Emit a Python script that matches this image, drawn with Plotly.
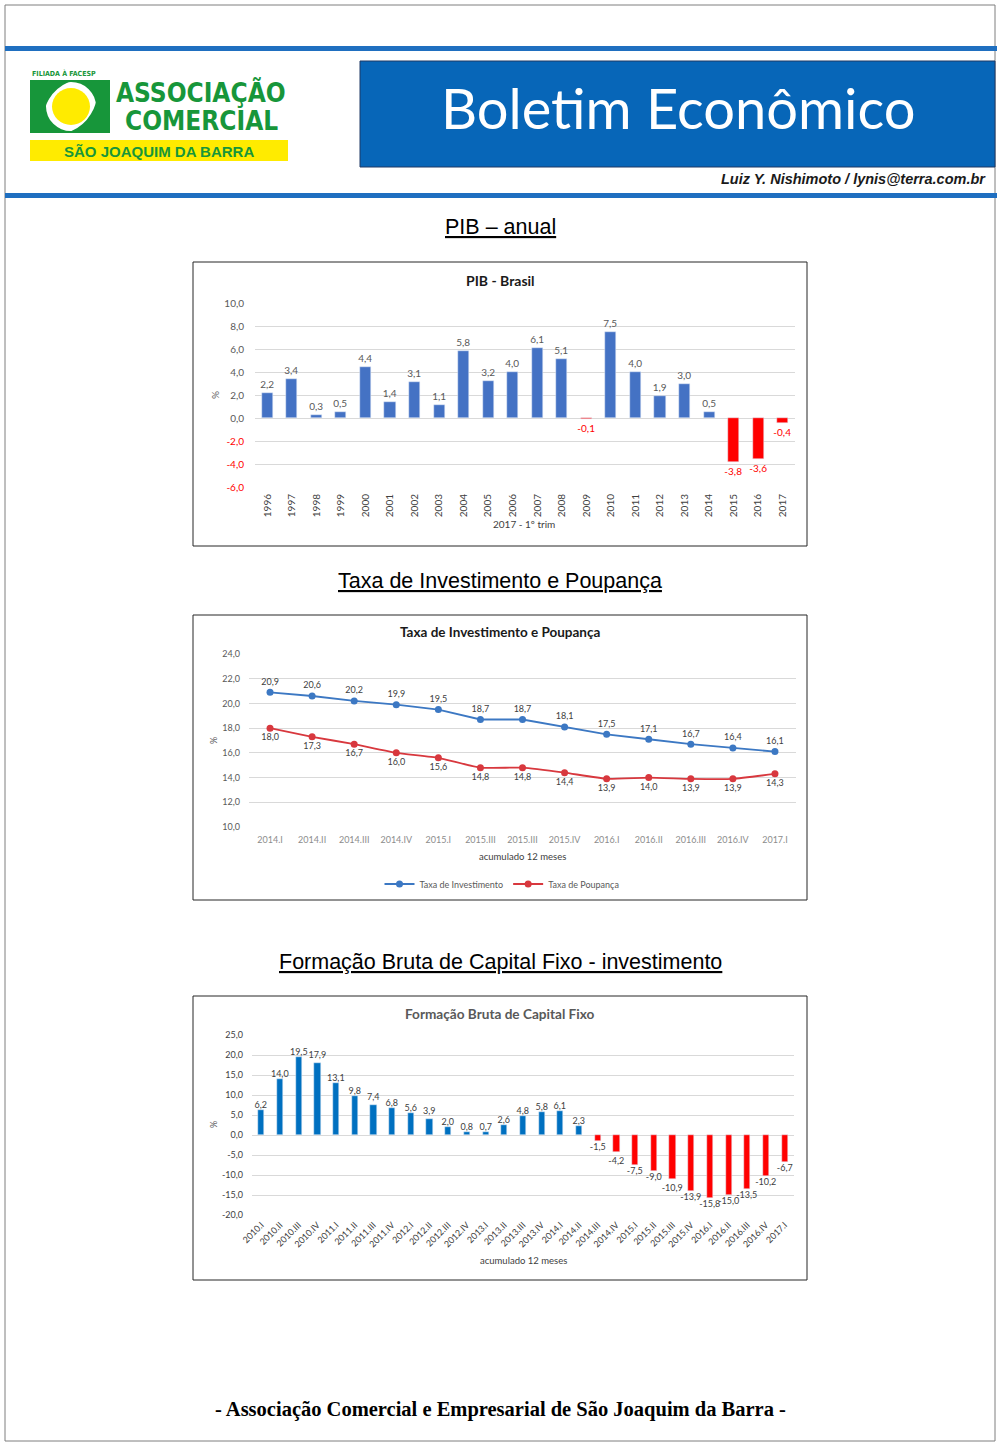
import plotly.graph_objects as go

W, H = 1000, 1448


def X(p):
    return p / W


def Y(p):
    return 1 - p / H


# ---------------- data ----------------
pib_years = ["1996", "1997", "1998", "1999", "2000", "2001", "2002", "2003", "2004", "2005", "2006",
             "2007", "2008", "2009", "2010", "2011", "2012", "2013", "2014", "2015", "2016", "2017"]
pib_values = [2.2, 3.4, 0.3, 0.5, 4.4, 1.4, 3.1, 1.1, 5.8, 3.2, 4.0,
              6.1, 5.1, -0.1, 7.5, 4.0, 1.9, 3.0, 0.5, -3.8, -3.6, -0.4]
pib_ticks = [10, 8, 6, 4, 2, 0, -2, -4, -6]

tx_periods = ["2014.I", "2014.II", "2014.III", "2014.IV", "2015.I", "2015.III", "2015.III",
              "2015.IV", "2016.I", "2016.II", "2016.III", "2016.IV", "2017.I"]
tx_invest = [20.9, 20.6, 20.2, 19.9, 19.5, 18.7, 18.7, 18.1, 17.5, 17.1, 16.7, 16.4, 16.1]
tx_poup = [18.0, 17.3, 16.7, 16.0, 15.6, 14.8, 14.8, 14.4, 13.9, 14.0, 13.9, 13.9, 14.3]
tx_ticks = [24, 22, 20, 18, 16, 14, 12, 10]

fbcf_periods = ["2010.I", "2010.II", "2010.III", "2010.IV", "2011.I", "2011.II", "2011.III", "2011.IV",
                "2012.I", "2012.II", "2012.III", "2012.IV", "2013.I", "2013.II", "2013.III", "2013.IV",
                "2014.I", "2014.II", "2014.III", "2014.IV", "2015.I", "2015.II", "2015.III", "2015.IV",
                "2016.I", "2016.II", "2016.III", "2016.IV", "2017.I"]
fbcf_values = [6.2, 14.0, 19.5, 17.9, 13.1, 9.8, 7.4, 6.8, 5.6, 3.9, 2.0, 0.8, 0.7, 2.6, 4.8, 5.8,
               6.1, 2.3, -1.5, -4.2, -7.5, -9.0, -10.9, -13.9, -15.8, -15.0, -13.5, -10.2, -6.7]
fbcf_ticks = [25, 20, 15, 10, 5, 0, -5, -10, -15, -20]

BLUE1 = "#4472C4"
BLUE3 = "#0070C0"
RED = "#FF0000"
LBLUE = "#3C78C3"
LRED = "#D8383E"
GRID = "#D9D9D9"
TXT = "#595959"
FONT = "Lato, Open Sans, sans-serif"


def br(v):
    return f"{v:.1f}".replace(".", ",")


fig = go.Figure()

# ---------------- chart 1: PIB ----------------
fig.add_trace(go.Bar(
    x=list(range(len(pib_years))), y=pib_values,
    marker_color=[BLUE1 if v >= 0 else RED for v in pib_values],
    width=0.45,
    text=[br(v) for v in pib_values], textposition="outside", constraintext="none",
    textfont=dict(size=10, family=FONT, color=[TXT if v >= 0 else RED for v in pib_values]),
    cliponaxis=False, showlegend=False, xaxis="x", yaxis="y",
))

# ---------------- chart 2: Taxa ----------------
fig.add_trace(go.Scatter(
    x=list(range(len(tx_periods))), y=tx_invest, mode="lines+markers+text",
    name="Taxa de Investimento",
    line=dict(color=LBLUE, width=1.8), marker=dict(size=7, color=LBLUE),
    text=[br(v) for v in tx_invest], textposition="top center",
    textfont=dict(size=9, family=FONT, color="#404040"),
    cliponaxis=False, xaxis="x2", yaxis="y2",
))
fig.add_trace(go.Scatter(
    x=list(range(len(tx_periods))), y=tx_poup, mode="lines+markers+text",
    name="Taxa de Poupança",
    line=dict(color=LRED, width=1.8, shape="spline", smoothing=0.4), marker=dict(size=7, color=LRED),
    text=[br(v) for v in tx_poup], textposition="bottom center",
    textfont=dict(size=9, family=FONT, color="#404040"),
    cliponaxis=False, xaxis="x2", yaxis="y2",
))

# ---------------- chart 3: FBCF ----------------
fig.add_trace(go.Bar(
    x=list(range(len(fbcf_periods))), y=fbcf_values,
    marker_color=[BLUE3 if v >= 0 else RED for v in fbcf_values],
    width=0.33,
    text=[br(v) for v in fbcf_values], textposition="outside", constraintext="none",
    textfont=dict(size=9, family=FONT, color="#404040"),
    cliponaxis=False, showlegend=False, xaxis="x3", yaxis="y3",
))

axis_common = dict(showline=False, zeroline=False, ticks="", fixedrange=True, automargin=False)

fig.update_layout(
    width=W, height=H, autosize=False,
    margin=dict(l=0, r=0, t=0, b=0, pad=0, autoexpand=False),
    paper_bgcolor="white", plot_bgcolor="white",
    separators=",.",
    showlegend=True,
    legend=dict(orientation="h", x=X(502), xanchor="center", y=Y(884), yanchor="middle",
                font=dict(size=9, family=FONT, color=TXT), bgcolor="rgba(0,0,0,0)",
                itemwidth=30, tracegroupgap=0),
    bargap=0,
    # chart 1
    xaxis=dict(domain=[X(255), X(795)], anchor="y", range=[-0.5, 21.5],
               tickvals=list(range(len(pib_years))), ticktext=pib_years, tickangle=-90,
               tickfont=dict(size=10, family=FONT, color="#404040"), showgrid=False,
               ticklabelstandoff=4, **axis_common),
    yaxis=dict(domain=[Y(487), Y(303)], anchor="x", range=[-6, 10],
               tickvals=pib_ticks,
               ticktext=[br(t) if t >= 0 else f'<span style="color:{RED}">{br(t)}</span>' for t in pib_ticks],
               tickfont=dict(size=10, family=FONT, color=TXT), gridcolor=GRID, gridwidth=1,
               ticklabelstandoff=10, **axis_common),
    # chart 2
    xaxis2=dict(domain=[X(249), X(796)], anchor="y2", range=[-0.5, 12.5],
                tickvals=list(range(len(tx_periods))), ticktext=tx_periods, tickangle=0,
                tickfont=dict(size=9, family=FONT, color="#8C8C8C"), showgrid=False,
                ticklabelstandoff=6, **axis_common),
    yaxis2=dict(domain=[Y(827), Y(654)], anchor="x2", range=[10, 24],
                tickvals=tx_ticks, ticktext=[br(t) for t in tx_ticks],
                tickfont=dict(size=9, family=FONT, color=TXT), gridcolor=GRID,
                ticklabelstandoff=8, **axis_common),
    # chart 3
    xaxis3=dict(domain=[X(252), X(794)], anchor="y3", range=[-0.5, 28.5],
                tickvals=list(range(len(fbcf_periods))), ticktext=fbcf_periods, tickangle=-45,
                tickfont=dict(size=9, family=FONT, color="#404040"), showgrid=False,
                ticklabelstandoff=2, **axis_common),
    yaxis3=dict(domain=[Y(1215), Y(1035)], anchor="x3", range=[-20, 25],
                tickvals=fbcf_ticks, ticktext=[br(t) for t in fbcf_ticks],
                tickfont=dict(size=9, family=FONT, color="#404040"), gridcolor=GRID,
                ticklabelstandoff=8, **axis_common),
)

shapes = []
annotations = []


def rect(x0, y0, x1, y1, fill=None, line=None, lw=0, layer="above"):
    shapes.append(dict(type="rect", xref="paper", yref="paper",
                       x0=X(x0), x1=X(x1), y0=Y(y1), y1=Y(y0),
                       fillcolor=fill if fill else "rgba(0,0,0,0)",
                       line=dict(color=line if line else "rgba(0,0,0,0)", width=lw),
                       layer=layer))


def text(x, y, s, size, color="black", family=FONT, xanchor="center", angle=0, bold=False):
    annotations.append(dict(xref="paper", yref="paper", x=X(x), y=Y(y), text=s,
                            showarrow=False, xanchor=xanchor, yanchor="middle",
                            textangle=angle,
                            font=dict(size=size, color=color, family=family,
                                      weight="bold" if bold else "normal")))


# page border
rect(5, 5, 995, 1441, line="#7F7F7F", lw=1, layer="below")
# blue rules
rect(5, 46, 997, 51, fill="#1F6FC0")
rect(5, 193, 997, 198, fill="#1F6FC0")
# banner
rect(360, 61, 995, 167, fill="#0766B8", line="#1F3864", lw=1)
text(678, 107, "Boletim Econômico", 56, color="white", family="Lato, Open Sans, sans-serif")
text(988, 179, "<i>Luiz Y. Nishimoto / lynis@terra.com.br</i>", 14.5, color="#1a1a1a",
     family="Liberation Sans, Arial, sans-serif", xanchor="right", bold=True)

# logo
GREEN = "#17963A"
YEL = "#FFEB00"
COND = "DejaVu Sans Condensed, Liberation Sans, sans-serif"
text(30, 73, "FILIADA À FACESP", 7, color=GREEN, family=COND, xanchor="left", bold=True)
rect(30, 80, 110, 133, fill=GREEN)
shapes.append(dict(type="circle", xref="paper", yref="paper", x0=X(46), x1=X(96), y0=Y(131), y1=Y(82),
                   fillcolor="white", line=dict(width=0)))
shapes.append(dict(type="circle", xref="paper", yref="paper", x0=X(52), x1=X(90), y0=Y(125), y1=Y(88),
                   fillcolor=YEL, line=dict(width=0)))
shapes.append(dict(type="path", xref="paper", yref="paper",
                   path=f"M {X(30)},{Y(80)} L {X(74)},{Y(80)} Q {X(48)},{Y(88)} {X(42)},{Y(118)} L {X(30)},{Y(118)} Z",
                   fillcolor=GREEN, line=dict(width=0)))
shapes.append(dict(type="path", xref="paper", yref="paper",
                   path=f"M {X(110)},{Y(133)} L {X(66)},{Y(133)} Q {X(92)},{Y(125)} {X(98)},{Y(95)} L {X(110)},{Y(95)} Z",
                   fillcolor=GREEN, line=dict(width=0)))
text(201, 92, "ASSOCIAÇÃO", 26, color=GREEN, family=COND, bold=True)
text(201, 121, "COMERCIAL", 26, color=GREEN, family=COND, bold=True)
rect(30, 140, 288, 161, fill=YEL)
text(159, 151, "SÃO JOAQUIM DA BARRA", 15, color=GREEN, family="Liberation Sans, sans-serif", bold=True)

# section headings
SEC = "Liberation Sans, Arial, sans-serif"
text(500, 227, "<u>PIB – anual</u>", 21.5, family=SEC)
text(500, 581, "<u>Taxa de Investimento e Poupança</u>", 21.5, family=SEC)
text(500, 962, "<u>Formação Bruta de Capital Fixo - investimento</u>", 21.5, family=SEC)

# chart boxes
rect(193, 262, 807, 546, line="#262626", lw=1)
rect(193, 615, 807, 900, line="#262626", lw=1)
rect(193, 996, 807, 1280, line="#262626", lw=1)

# chart titles
text(500, 280, "PIB - Brasil", 14, color="#1a1a1a", bold=True)
text(500, 632, "Taxa de Investimento e Poupança", 13.5, color="#1a1a1a", bold=True)
text(500, 1014, "Formação Bruta de Capital Fixo", 13.6, color=TXT, bold=True)

# axis titles
text(215, 395, "%", 10, color=TXT, angle=-90)
text(524, 524, "2017 - 1º trim", 10, color="#404040")
text(213, 741, "%", 9, color=TXT, angle=-90)
text(522, 856, "acumulado 12 meses", 9.5, color="#404040")
text(213, 1125, "%", 9, color=TXT, angle=-90)
text(523, 1260, "acumulado 12 meses", 9.5, color="#404040")

# footer
text(500, 1409, "- Associação Comercial e Empresarial de São Joaquim da Barra -", 20.5,
     color="black", family="Liberation Serif, serif", bold=True)

fig.update_layout(shapes=shapes, annotations=annotations)
fig.write_html(
    "out.html",
    config={"displayModeBar": False},
    post_script=(
        "document.documentElement.style.margin='0';document.documentElement.style.overflow='hidden';"
        "document.body.style.margin='0';document.body.style.padding='0';document.body.style.overflow='hidden';"
        "var d=document.getElementById('{plot_id}');d.style.position='absolute';d.style.left='0px';d.style.top='0px';"
    ),
)
